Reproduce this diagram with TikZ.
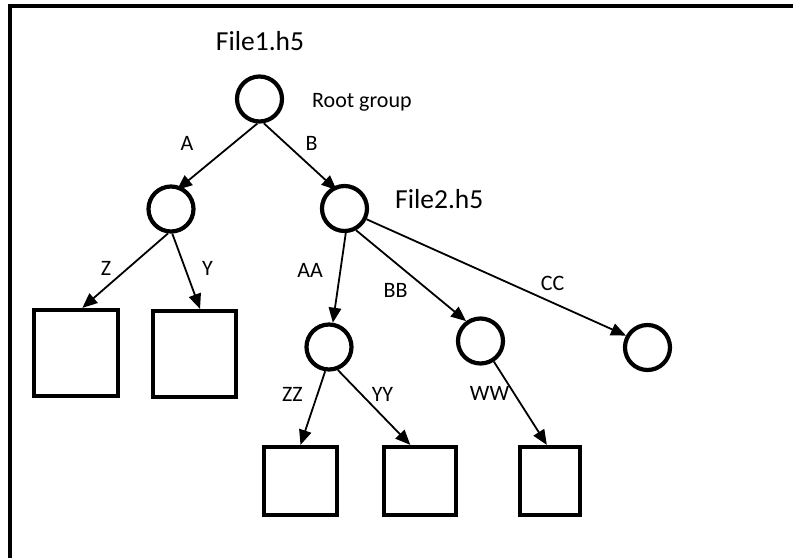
\documentclass[tikz,border=0pt]{standalone}
\usepackage{fontspec}
\setmainfont{Carlito}
\usetikzlibrary{arrows.meta}
\begin{document}
\begin{tikzpicture}[x=1pt,y=-1pt,
  grp/.style={circle,draw,line width=4.2pt,minimum size=45pt,inner sep=0pt},
  dset/.style={rectangle,draw,line width=4.2pt,inner sep=0pt},
  lbl/.style={inner sep=0pt,anchor=base,font=\fontsize{22}{26}\selectfont},
  ttl/.style={inner sep=0pt,anchor=base,font=\fontsize{27.5}{32}\selectfont},
  link/.style={line width=1.8pt,-{Triangle[length=15pt,width=12.5pt]}}]
\useasboundingbox (0,0) rectangle (793,558);
\fill[white] (0,0) rectangle (793,558);
\draw[line width=4pt] (793,6) -- (10,6) -- (10,558);
% groups
\node[grp] (root) at (259.5,99) {};
\node[grp] (ga) at (171,209) {};
\node[grp] (gb) at (344.5,208.5) {};
\node[grp] (gaa) at (329,347) {};
\node[grp] (gbb) at (480.5,341) {};
\node[grp] (gcc) at (647.5,347.5) {};
% datasets
\node[dset,minimum width=84pt,minimum height=86pt] (dz) at (76,353) {};
\node[dset,minimum width=83pt,minimum height=86pt] (dy) at (194.5,354) {};
\node[dset,minimum width=73pt,minimum height=68pt] (dzz) at (300.5,481) {};
\node[dset,minimum width=72pt,minimum height=68pt] (dyy) at (420,481) {};
\node[dset,minimum width=60pt,minimum height=68pt] (dww) at (550,481) {};
% texts
\node[ttl] (f1) at (260,50) {File1.h5};
\node[lbl,anchor=base west] (rg) at (312,107) {Root group};
\node[ttl,anchor=base west] (f2) at (395,208) {File2.h5};
\node[lbl] (la) at (187,150) {A};
\node[lbl] (lb) at (311.5,150) {B};
\node[lbl] (lz) at (106,275) {Z};
\node[lbl] (ly) at (207.5,275) {Y};
\node[lbl] (laa) at (310,277) {AA};
\node[lbl] (lbb) at (395.5,297) {BB};
\node[lbl] (lcc) at (552.5,290) {CC};
\node[lbl] (lzz) at (292.5,401) {ZZ};
\node[lbl] (lyy) at (382.5,401) {YY};
\node[lbl] (lww) at (489.5,400) {WW};
% links
\draw[link,shorten >=-5pt] (root.-95) -- (ga.66);
\draw[link,shorten >=-5pt] (root.-80) -- (gb.118);
\draw[link] (ga.-97) -- (dz.82);
\draw[link] (ga.-87) -- (dy.83);
\draw[link] (gb.-87) -- (gaa.81);
\draw[link] (gb.-62) -- (gbb.126);
\draw[link] (gb.-26) -- (gcc.151);
\draw[link] (gaa.-99) -- (dzz.north);
\draw[link] (gaa.-69) -- (dyy.105);
\draw[link] (gbb.-57) -- (dww.95);
\end{tikzpicture}
\end{document}
